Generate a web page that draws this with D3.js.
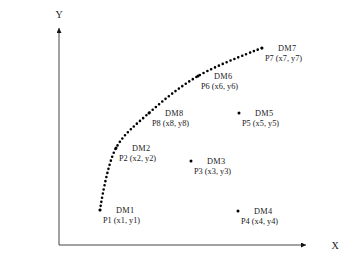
<!DOCTYPE html>
<html>
<head>
<meta charset="utf-8">
<script src="https://cdn.jsdelivr.net/npm/d3@7"></script>
<style>
  body { margin: 0; background: #fff; }
  text { font-family: "Liberation Serif", "Times New Roman", serif; fill: #222; }
</style>
</head>
<body>
<svg width="356" height="256"></svg>
<script>
// point data (abstract units)
const names = ["1", "2", "3", "4", "5", "6", "7", "8"];
const xValues = [41, 57, 132, 179, 180, 139, 203, 90];
const yValues = [35, 97, 84, 34, 132, 169, 197, 132];
// order of points on the dotted path
const pathOrder = ["1", "2", "8", "6", "7"];

const render = () => {
  const svg = d3.select("svg");
  const xScale = d3.scaleLinear().domain([0, 247]).range([59, 306]);
  const yScale = d3.scaleLinear().domain([0, 217]).range([245, 28]);

  const data = names.map((n, i) => ({ name: n, x: xValues[i], y: yValues[i] }));
  const byName = new Map(data.map((d) => [d.name, d]));

  svg
    .append("defs")
    .append("marker")
    .attr("id", "arrow")
    .attr("viewBox", "0 0 10 10")
    .attr("refX", 10)
    .attr("refY", 5)
    .attr("markerWidth", 7)
    .attr("markerHeight", 5)
    .attr("markerUnits", "userSpaceOnUse")
    .attr("orient", "auto")
    .append("path")
    .attr("d", "M0,0L10,5L0,10Z")
    .attr("fill", "#111");

  const x0 = xScale(0), y0 = yScale(0);
  // axes
  svg.append("line")
    .attr("x1", x0).attr("y1", y0)
    .attr("x2", xScale.range()[1]).attr("y2", y0)
    .attr("stroke", "#444").attr("stroke-width", 1)
    .attr("marker-end", "url(#arrow)");
  svg.append("line")
    .attr("x1", x0).attr("y1", y0)
    .attr("x2", x0).attr("y2", yScale.range()[1])
    .attr("stroke", "#444").attr("stroke-width", 1)
    .attr("marker-end", "url(#arrow)");

  svg.append("text").text("X")
    .attr("x", 335).attr("y", y0 + 4)
    .attr("text-anchor", "middle").attr("font-size", 10);
  svg.append("text").text("Y")
    .attr("x", x0).attr("y", 18)
    .attr("text-anchor", "middle").attr("font-size", 10);

  // dotted path
  const line = d3.line()
    .x((d) => xScale(d.x))
    .y((d) => yScale(d.y))
    .curve(d3.curveCatmullRom.alpha(0.5));
  svg.append("path")
    .datum(pathOrder.map((n) => byName.get(n)))
    .attr("d", line)
    .attr("fill", "none")
    .attr("stroke", "#000")
    .attr("stroke-width", 2.6)
    .attr("stroke-linecap", "round")
    .attr("stroke-dasharray", "0,4.2");

  const g = svg.selectAll(".pt").data(data).enter().append("g").attr("class", "pt");
  g.append("circle")
    .attr("cx", (d) => xScale(d.x))
    .attr("cy", (d) => yScale(d.y))
    .attr("r", 1.5)
    .attr("fill", "#000");
  g.append("text")
    .attr("x", (d) => xScale(d.x) + 16)
    .attr("y", (d) => yScale(d.y) + 3)
    .attr("font-size", 8.3)
    .attr("letter-spacing", 0.3)
    .text((d) => "DM" + d.name);
  g.append("text")
    .attr("x", (d) => xScale(d.x) + 3)
    .attr("y", (d) => yScale(d.y) + 12.5)
    .attr("font-size", 8.3)
    .text((d) => `P${d.name} (x${d.name}, y${d.name})`);
};
render();
</script>
</body>
</html>
